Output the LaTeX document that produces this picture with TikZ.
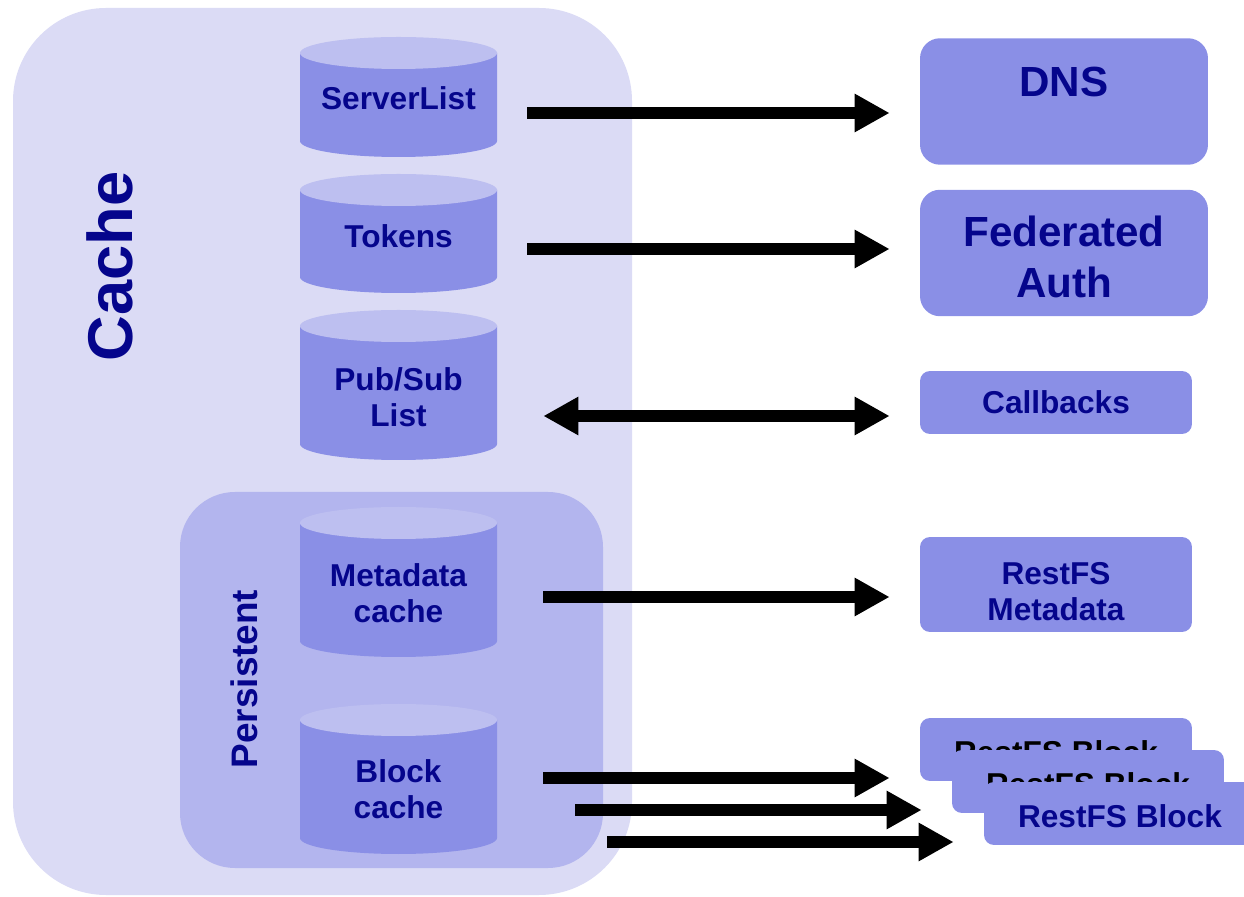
\documentclass[tikz,border=0pt]{standalone}
\usepackage{fontspec}
\setmainfont{Liberation Sans}
\usepackage{xcolor}
\usetikzlibrary{arrows.meta,calc}
\definecolor{cacheback}{HTML}{DBDBF5}
\definecolor{persback}{HTML}{B3B5EE}
\definecolor{cylbody}{HTML}{8A8FE6}
\definecolor{cyltop}{HTML}{BDBFF0}
\definecolor{navytext}{HTML}{05058C}

\begin{document}
\begin{tikzpicture}[x=0.02cm, y=0.02cm,
	>={Triangle[length=0.7cm, width=0.72cm]},
	dbtext/.style={text=navytext, font=\bfseries\fontsize{18}{20.5}\selectfont, align=center, minimum width=3.94cm, inner sep=0pt},
	svcbox/.style={fill=cylbody, rounded corners=0.2cm, text=navytext, font=\bfseries\fontsize{18}{20.5}\selectfont, align=center, inner sep=0pt, minimum width=5.44cm, minimum height=1.26cm},
	bigbox/.style={svcbox, rounded corners=0.4cm, font=\bfseries\fontsize{24}{29}\selectfont, minimum width=5.76cm, minimum height=2.53cm},
	fatarrow/.style={line width=0.24cm, ->}]
	\useasboundingbox (0,0) rectangle (1244,896);
	% cache and persistent areas
	\fill[cacheback, rounded corners=1.86cm] (13,1) rectangle (632,888);
	\fill[persback, rounded corners=1.1cm] (180,28) rectangle (603,404);
	\node[rotate=90, anchor=base, text=navytext, font=\bfseries\fontsize{36}{40}\selectfont] (cachelbl) at (132,629.5) {Cache};
	\node[rotate=90, anchor=base, text=navytext, font=\bfseries\fontsize{21}{24}\selectfont] (perslbl) at (257,217) {Persistent};
	% stores
	\foreach \n/\yt/\yb/\yc/\txt in {srv/843/755/797.5/ServerList, tok/706/619/660/Tokens, pub/570/452/499/{Pub/Sub\\List}, meta/373/255/302.5/{Metadata\\cache}, blk/176/58/106.5/{Block\\cache}} {
		\fill[cylbody] (300,\yt) -- (300,\yb) arc[start angle=180, end angle=360, x radius=98.5, y radius=16] -- (497,\yt) -- cycle;
		\fill[cyltop] (398.5,\yt) ellipse[x radius=98.5, y radius=16];
		\node[dbtext] (\n) at (398.5,\yc) {\txt};
	}
	% services
	\node[bigbox, text depth=23pt] (dns) at (1064,794.5) {DNS};
	\node[bigbox, text height=51pt] (fed) at (1064,643) {Federated\\Auth};
	\node[svcbox] (cb) at (1056,493.5) {Callbacks};
	\node[svcbox, minimum height=1.9cm, text height=40.8pt] (rmeta) at (1056,311.5) {RestFS\\Metadata};
	\node[svcbox, text=black, text height=16.5pt] (blk1) at (1056,146.5) {RestFS Block};
	\node[svcbox, text=black, text height=16.5pt] (blk2) at (1088,114.5) {RestFS Block};
	\node[svcbox, text height=16.5pt] (blk3) at (1120,82.5) {RestFS Block};
	% connectors
	\draw[fatarrow] ($(srv.east)+(30,-14.5)$) -- ($(srv.east -| dns.west)+(-30,-14.5)$);
	\draw[fatarrow] ($(tok.east)+(30,-13)$) -- ($(tok.east -| fed.west)+(-30,-13)$);
	\draw[fatarrow, <->] ($(pub.east)+(46,-19)$) -- ($(pub.east -| cb.west)+(-30,-19)$);
	\draw[fatarrow] ($(meta.east)+(46,-3.5)$) -- ($(meta.east -| rmeta.west)+(-30,-3.5)$);
	\draw[fatarrow] ($(blk.east)+(46,11.5)$) -- ($(blk.east -| blk1.west)+(-30,11.5)$);
	\draw[fatarrow] ($(blk.east)+(78,-20.5)$) -- ($(blk.east -| blk2.west)+(-30,-20.5)$);
	\draw[fatarrow] ($(blk.east)+(110,-52.5)$) -- ($(blk.east -| blk3.west)+(-30,-52.5)$);
\end{tikzpicture}
\end{document}
